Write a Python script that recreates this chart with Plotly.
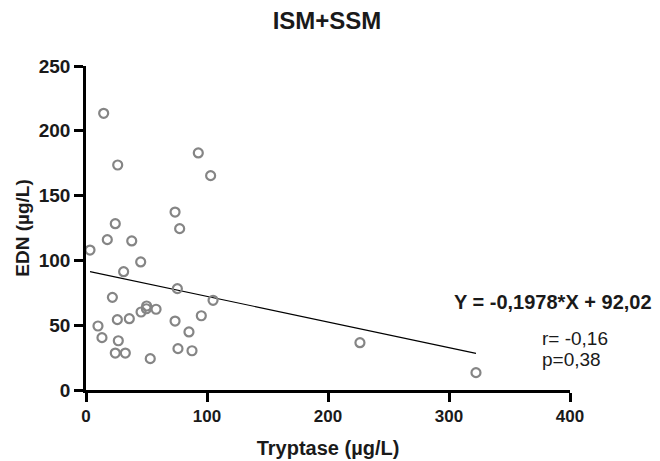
import plotly.graph_objects as go

tryptase = [14.6, 26.2, 92.8, 103.0, 73.6, 77.4, 24.2, 17.6, 37.8, 3.3, 45.2, 31.1,
            75.5, 105.0, 21.8, 50.1, 49.9, 57.9, 45.5, 25.9, 35.8, 73.6, 95.3, 9.9,
            85.1, 13.2, 26.7, 24.2, 32.5, 76.0, 87.6, 53.1, 226.4, 322.3]
edn = [213.5, 173.6, 182.9, 165.4, 137.3, 124.5, 128.3, 116.0, 115.0, 108.0, 98.8, 91.3,
       78.2, 69.2, 71.5, 64.8, 62.7, 62.3, 60.2, 54.3, 55.0, 53.2, 57.3, 49.4,
       44.8, 40.4, 38.0, 28.5, 28.5, 31.9, 30.3, 24.2, 36.5, 13.4]

slope = -0.1978
intercept = 92.02
fit_x = [min(tryptase), max(tryptase)]
fit_y = [slope * v + intercept for v in fit_x]

x_ticks = [0, 100, 200, 300, 400]
y_ticks = [0, 50, 100, 150, 200, 250]

FONT = "Liberation Sans, Arial, sans-serif"
TXT = "#1a1a1a"

# page offset (browser body margin)
O = 8
W, H = 660 - O, 461 - O
# plot area in page pixels: x 86..570, y 66..390
L, T = 86 - O, 66 - O
R = (O + W) - 570
B = (O + H) - 390

fig = go.Figure()
fig.add_trace(go.Scatter(x=fit_x, y=fit_y, mode="lines",
                         line=dict(color="black", width=1.2), showlegend=False,
                         cliponaxis=False))
fig.add_trace(go.Scatter(x=tryptase, y=edn, mode="markers",
                         marker=dict(symbol="circle-open", size=9, color="#858585",
                                     line=dict(width=2.2, color="#858585")),
                         showlegend=False, cliponaxis=False))

axis_common = dict(showline=True, linecolor="black", linewidth=2.5, ticks="outside",
                   ticklen=9, tickwidth=2.5, tickcolor="black", showgrid=False,
                   zeroline=False, mirror=False, automargin=False)

fig.update_layout(
    width=W, height=H,
    margin=dict(l=L, r=R, t=T, b=B),
    plot_bgcolor="white", paper_bgcolor="white",
    title=dict(text="<b>ISM+SSM</b>", x=(327 - O) / W, xanchor="center",
               y=1 - (21 - O) / H, yanchor="middle",
               font=dict(family=FONT, size=24, color=TXT)),
    xaxis=dict(range=[0, 400], tickvals=x_ticks, ticktext=[f"<b>{v}</b>" for v in x_ticks],
               tickfont=dict(family=FONT, size=17, color=TXT),
               title=dict(text="<b>Tryptase (µg/L)</b>", standoff=16,
                          font=dict(family=FONT, size=20, color=TXT)),
               **axis_common),
    yaxis=dict(range=[0, 250], tickvals=y_ticks, ticktext=[f"<b>{v}</b>" for v in y_ticks],
               tickfont=dict(family=FONT, size=19, color=TXT),
               title=dict(text="<b>EDN (µg/L)</b>", standoff=5,
                          font=dict(family=FONT, size=19, color=TXT)),
               **axis_common),
)

pw = W - L - R
ph = H - T - B


def px_ann(text, px, py, size, xanchor="left"):
    # px, py are page pixel coordinates
    return dict(text=text, x=(px - O - L) / pw, y=(O + H - B - py) / ph,
                xref="paper", yref="paper",
                showarrow=False, xanchor=xanchor, yanchor="middle",
                font=dict(family=FONT, size=size, color=TXT))


fig.update_layout(annotations=[
    px_ann("<b>Y = -0,1978*X + 92,02</b>", 452, 302, 20),
    px_ann("r= -0,16", 540, 338, 19),
    px_ann("p=0,38", 540, 359, 19),
])

fig.write_html("out.html")
